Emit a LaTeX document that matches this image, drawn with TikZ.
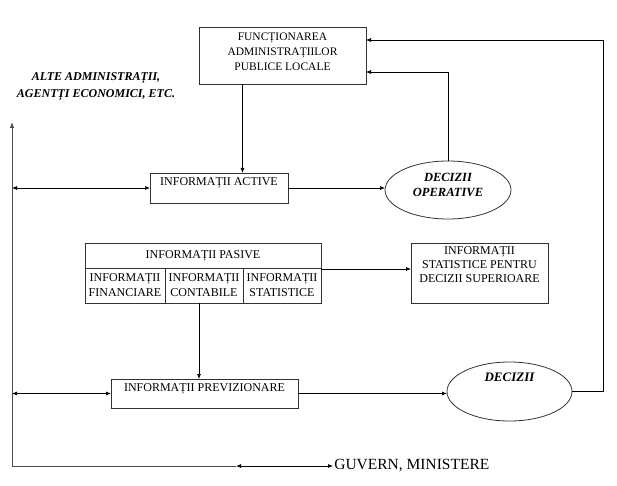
\documentclass[tikz,border=0pt]{standalone}
\usepackage{fontspec}
\setmainfont{Liberation Serif}
\usetikzlibrary{shapes,arrows.meta,positioning}
\tikzstyle{block} = [draw=black!80, rectangle, line width=0.8pt,
    inner sep=0pt, outer sep=0pt]
\tikzstyle{decision} = [draw=black!80, ellipse, line width=0.8pt,
    inner sep=0pt, outer sep=0pt]
\tikzstyle{caption} = [align=center, inner sep=0pt,
    font=\fontsize{12}{15}\selectfont]
\tikzstyle{emph} = [align=center, inner sep=0pt,
    font=\fontsize{12.5}{15}\selectfont\bfseries\itshape]
\tikzstyle{frame} = [draw=black!70, line width=1pt]

\begin{document}
\begin{tikzpicture}[x=1pt, y=-1pt, >={Latex[length=5pt,width=4pt]},
    line width=0.7pt]
    \useasboundingbox (0,0) rectangle (617,486);
    % We start by placing the blocks
    \node [block, minimum width=167pt, minimum height=57pt] (admin) at (282.5,55.5) {};
    \node [caption, below=5.5pt of admin.north, font=\fontsize{11.5}{15}\selectfont] (admintxt)
        {FUNCȚIONAREA\\ADMINISTRAȚIILOR\\PUBLICE LOCALE};
    \node [block, minimum width=138pt, minimum height=30pt] (active) at (219,188) {};
    \node [caption, below=4.5pt of active.north] (activetxt) {INFORMAȚII ACTIVE};
    \node [decision, minimum width=126pt, minimum height=58pt] (oper) at (448,190) {};
    \node [emph] (opertxt) at ([yshift=5.5pt]oper.center) {DECIZII\\OPERATIVE};

    % the table of passive information
    \node [block, caption, minimum width=236pt, minimum height=25pt] (pasive) at (203,255.5)
        {INFORMAȚII PASIVE};
    \node [block, caption, minimum width=80pt, minimum height=35pt,
        anchor=north west] (finan) at (pasive.south west) {INFORMAȚII\\FINANCIARE};
    \node [block, caption, minimum width=78pt, minimum height=35pt,
        anchor=north west] (contab) at (finan.north east) {INFORMAȚII\\CONTABILE};
    \node [block, caption, minimum width=78pt, minimum height=35pt,
        anchor=north west] (statis) at (contab.north east) {INFORMAȚII\\STATISTICE};
    \node [block, minimum width=137pt, minimum height=60pt] (superior) at (479.5,273) {};
    \node [caption, below=3.5pt of superior.north, font=\fontsize{12}{14}\selectfont] (superiortxt)
        {INFORMAȚII\\STATISTICE PENTRU\\DECIZII SUPERIOARE};

    \node [block, minimum width=187pt, minimum height=29pt] (previz) at (204.5,393.5) {};
    \node [caption, below=4pt of previz.north] (preiztxt) {INFORMAȚII PREVIZIONARE};
    \node [decision, minimum width=125pt, minimum height=59pt] (dec) at (509.5,391.5) {};
    \node [emph, below=11pt of dec.north, font=\fontsize{13}{15}\selectfont\bfseries\itshape] (dectxt)
        {DECIZII};

    % the outer partners
    \node [emph, font=\fontsize{12}{17}\selectfont\bfseries\itshape] (alte) at (96,86.5)
        {ALTE ADMINISTRAȚII,\\AGENTȚI ECONOMICI, ETC.};
    \node [anchor=west, inner sep=1pt, font=\fontsize{15.5}{17}\selectfont] (guvern) at (333,466)
        {GUVERN, MINISTERE};
    \coordinate (top) at (12,122);
    \coordinate (corner) at (12,466);
    \coordinate (gv) at (236,466);
    \coordinate (right) at (603,40);

    % Once the nodes are placed, connecting them is easy.
    \draw [->] ([xshift=-40pt]admin.south) -- ([xshift=-40pt]admin.south |- active.north);
    \draw [->] (active.east) -- (active.east -| oper.west);
    \draw [<->] (active.west -| top) -- (active.west);
    \draw [->] (oper.north) |- ([yshift=12pt]admin.south east);
    \draw [->] (dec.east) -- (dec.east -| right) -- (right) -- (right -| admin.east);
    \draw [->] ([yshift=-1pt]pasive.south east) -- ([yshift=-1pt]pasive.south east -| superior.west);
    \draw [->] ([xshift=-5pt]contab.south) -- ([xshift=-5pt]contab.south |- previz.north);
    \draw [->] (previz.east) -- (previz.east -| dec.west);
    \draw [<->] (previz.west -| top) -- (previz.west);
    \draw [frame, -{Latex[length=6pt,width=4.5pt]}] (gv) -- (corner) -- (top);
    \draw [<->] (gv) -- (guvern.west);
\end{tikzpicture}
\end{document}
